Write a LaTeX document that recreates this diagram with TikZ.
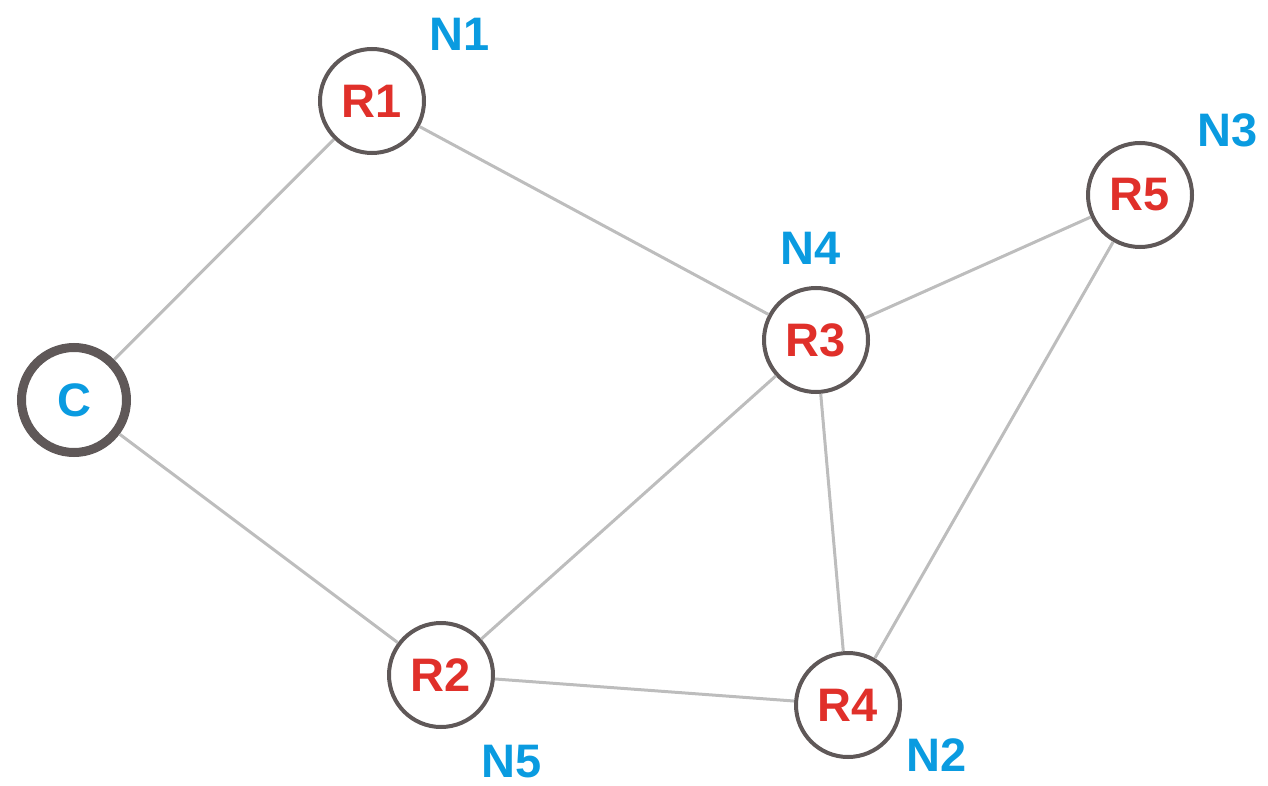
\documentclass[tikz,border=0pt]{standalone}
\usepackage{fontspec}
\setmainfont{Liberation Sans}
\definecolor{rred}{HTML}{E0302A}
\definecolor{nblue}{HTML}{0A9BE0}
\definecolor{ring}{HTML}{5F5858}
\definecolor{edge}{HTML}{BDBDBD}
\begin{document}
\begin{tikzpicture}[x=1pt,y=-1pt,
  router/.style={circle,draw=ring,line width=4pt,fill=white,minimum size=104pt,inner sep=0pt,
    text=rred,font=\fontsize{47}{47}\selectfont\bfseries},
  client/.style={circle,draw=ring,line width=9pt,fill=white,minimum size=105pt,inner sep=0pt,
    text=nblue,font=\fontsize{47}{47}\selectfont\bfseries},
  lbl/.style={text=nblue,font=\fontsize{47}{47}\selectfont\bfseries,inner sep=0pt},
  link/.style={draw=edge,line width=3pt}]
\useasboundingbox (0,0) rectangle (1268,786);
\node[client] (C) at (74,400) {C};
\node[router] (R1) at (372,101) {R1};
\node[router] (R2) at (441,675) {R2};
\node[router] (R3) at (816,340) {R3};
\node[router] (R4) at (848,705) {R4};
\node[router] (R5) at (1140,195) {R5};
\node[lbl] (N1) at (460,34) {N1};
\node[lbl] (N3) at (1228,130) {N3};
\node[lbl] (N4) at (811,248) {N4};
\node[lbl] (N5) at (512,762) {N5};
\node[lbl] (N2) at (937,755) {N2};
\draw[link] (C) -- (R1);
\draw[link] (C) -- (R2);
\draw[link] (R1) -- (R3);
\draw[link] (R3) -- (R5);
\draw[link] (R3) -- (R2);
\draw[link] (R3) -- (R4);
\draw[link] (R2) -- (R4);
\draw[link] (R5) -- (R4);
\end{tikzpicture}
\end{document}
